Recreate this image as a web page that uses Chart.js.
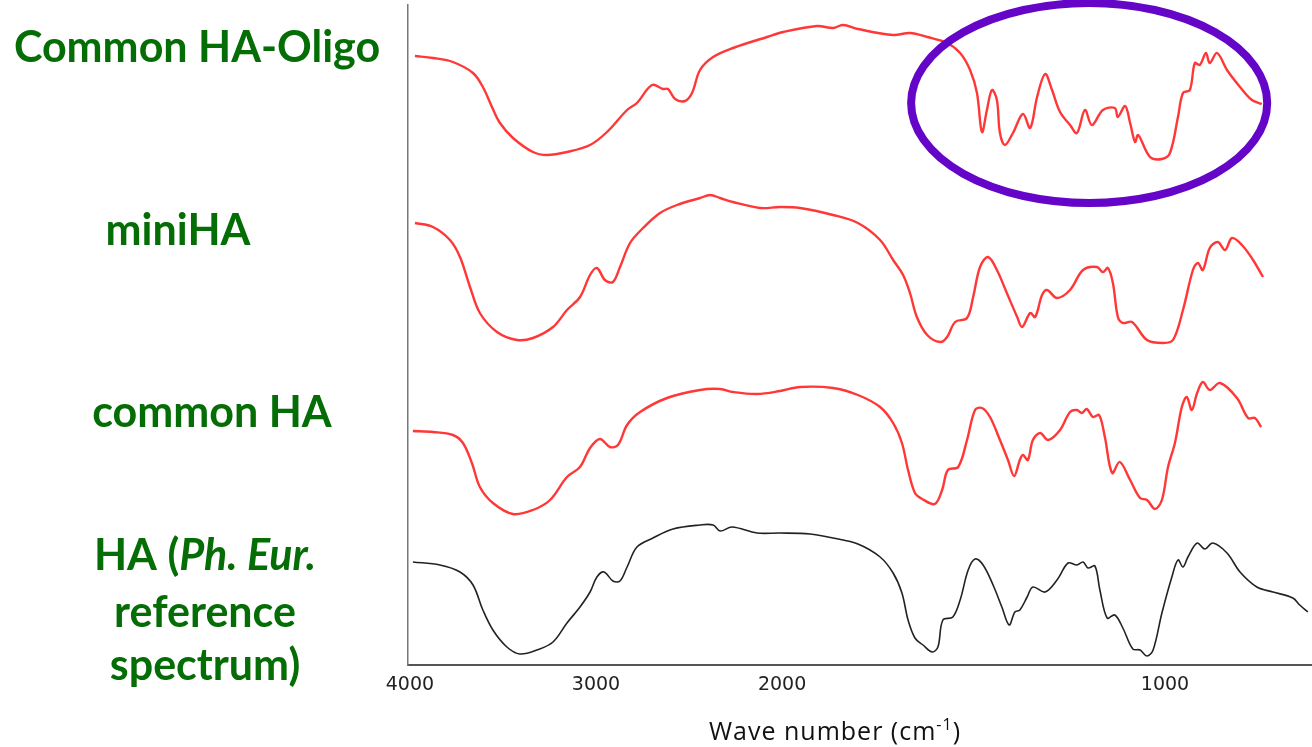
<!DOCTYPE html>
<html lang="en">
<head>
  <meta charset="UTF-8">
  <title>FTIR spectra – HA samples</title>
  <style>
    html, body { margin: 0; padding: 0; background: #ffffff; }
    #wrap { position: relative; width: 1312px; height: 747px; }
  </style>
</head>
<body>
  <div id="wrap"><canvas id="spectra" width="1312" height="747"></canvas></div>

  <script src="https://cdn.jsdelivr.net/npm/chart.js"></script>
  <script>
    // wave numbers (cm-1) and stacked trace levels (a.u.)
    const oligoWave = [3973, 3876, 3769, 3661, 3608, 3559, 3516, 3446, 3339, 3263, 3156, 3032, 2941, 2833, 2780, 2699, 2640, 2613, 2575, 2522,
      2484, 2441, 2371, 2264, 2081, 1997, 1909, 1867, 1841, 1802, 1710, 1666, 1621, 1569, 1535, 1509, 1491, 1478, 1465, 1452,
      1439, 1431, 1418, 1397, 1371, 1352, 1334, 1313, 1295, 1274, 1248, 1230, 1209, 1191, 1162, 1131, 1123, 1104, 1091, 1078,
      1070, 1039, 1008, 987, 966, 953, 935, 922, 909, 893, 883, 864, 838, 804, 773, 747];
    const oligoLevel = [609, 607, 603, 592, 578, 558, 542, 527, 513, 510, 513, 520, 533, 555, 562, 580, 576, 576, 566, 564,
      572, 595, 608, 617, 628, 633, 639, 637, 640, 636, 630, 632, 628, 622, 612, 595, 572, 533, 555, 575,
      565, 532, 520, 532, 551, 537, 568, 591, 575, 553, 540, 532, 555, 540, 555, 557, 548, 559, 542, 523,
      530, 508, 506, 512, 548, 572, 575, 602, 600, 612, 602, 612, 595, 578, 565, 561];

    const miniWave = [3973, 3876, 3785, 3731, 3677, 3624, 3532, 3425, 3339, 3231, 3156, 3086, 3032, 2995, 2952, 2909, 2871, 2817, 2747, 2656,
      2565, 2441, 2387, 2333, 2264, 2118, 2011, 1953, 1867, 1802, 1744, 1710, 1684, 1666, 1648, 1621, 1587, 1569, 1548, 1517,
      1501, 1483, 1462, 1439, 1413, 1386, 1373, 1352, 1339, 1321, 1308, 1282, 1248, 1214, 1178, 1162, 1149, 1136, 1123, 1110,
      1086, 1047, 1005, 979, 953, 927, 914, 901, 883, 862, 843, 825, 799, 770, 744];
    const miniLevel = [442, 438, 425, 408, 378, 352, 333, 325, 327, 338, 355, 368, 390, 397, 385, 383, 398, 422, 437, 452,
      460, 467, 470, 467, 463, 457, 458, 457, 450, 442, 425, 405, 390, 372, 348, 330, 323, 328, 343, 347,
      368, 398, 408, 395, 372, 348, 338, 352, 348, 370, 375, 367, 375, 395, 398, 393, 397, 382, 348, 342,
      343, 325, 322, 325, 355, 395, 402, 395, 417, 423, 415, 427, 420, 405, 388];

    const commonWave = [3984, 3876, 3769, 3715, 3667, 3624, 3554, 3446, 3339, 3247, 3156, 3086, 3032, 2979, 2925, 2882, 2833, 2763, 2618, 2441,
      2333, 2264, 2135, 2011, 1953, 1867, 1802, 1744, 1710, 1687, 1671, 1653, 1634, 1601, 1582, 1567, 1540, 1517, 1496, 1478,
      1457, 1431, 1410, 1394, 1379, 1371, 1358, 1345, 1326, 1305, 1274, 1248, 1230, 1217, 1204, 1188, 1172, 1157, 1138, 1118,
      1091, 1065, 1047, 1026, 1008, 992, 974, 956, 943, 930, 916, 901, 883, 856, 812, 783, 765, 749];
    const commonLevel = [234, 233, 230, 222, 202, 178, 162, 151, 155, 165, 188, 198, 217, 226, 218, 220, 240, 253, 267, 275,
      276, 273, 271, 274, 278, 277, 270, 258, 242, 222, 195, 172, 166, 161, 175, 195, 198, 225, 255, 257,
      248, 225, 205, 189, 205, 210, 205, 225, 232, 225, 235, 253, 255, 252, 256, 248, 250, 228, 192, 203,
      185, 167, 165, 156, 165, 198, 222, 258, 268, 255, 272, 283, 275, 282, 267, 247, 247, 238];

    const refWave = [3984, 3839, 3731, 3661, 3608, 3554, 3479, 3409, 3317, 3231, 3156, 3086, 3032, 2995, 2957, 2909, 2871, 2833, 2780, 2694,
      2586, 2441, 2371, 2333, 2269, 2135, 2011, 1927, 1867, 1802, 1744, 1710, 1687, 1671, 1653, 1632, 1608, 1593, 1580, 1554,
      1535, 1514, 1496, 1475, 1449, 1426, 1407, 1392, 1379, 1360, 1345, 1313, 1282, 1253, 1230, 1214, 1201, 1183, 1170, 1151,
      1131, 1110, 1084, 1065, 1047, 1031, 1008, 982, 966, 953, 940, 916, 896, 875, 838, 804, 760, 718, 666, 648, 627];
    const refLevel = [103, 100, 93, 80, 55, 35, 18, 11, 15, 23, 42, 58, 73, 88, 93, 84, 84, 98, 118, 127,
      136, 140, 140, 134, 138, 132, 132, 131, 127, 121, 108, 92, 72, 45, 27, 20, 13, 18, 45, 48,
      65, 95, 106, 100, 80, 58, 40, 53, 55, 68, 78, 73, 85, 102, 100, 103, 97, 99, 75, 47,
      50, 37, 16, 15, 9, 15, 52, 88, 105, 98, 108, 122, 116, 122, 112, 93, 78, 73, 67, 60, 53];

    const waveTicks = [4000, 3000, 2000, 1000];
    const sampleNames = ['Common HA-Oligo', 'miniHA', 'common HA', 'HA (Ph. Eur. reference spectrum)'];
    const axisTitle = 'Wave number (cm';
    const axisTitleSup = '-1';

    // the spectrometer plot compresses the range above 2000 cm-1
    const SPLIT = 2000, HIGH_FACTOR = 0.486;
    function toAxis(w) { return w < SPLIT ? w : SPLIT + (w - SPLIT) * HIGH_FACTOR; }

    function series(wave, level) {
      return wave.map((w, i) => ({ x: toAxis(w), y: level[i] }));
    }

    const redTrace = { borderColor: 'rgba(255, 20, 20, 0.85)', borderWidth: 2.4 };
    const blackTrace = { borderColor: '#222222', borderWidth: 1.6 };

    // left hand sample labels, drawn on the canvas
    const labelLines = [
      { cx: 197, base: 62, parts: [{ text: 'Common HA-Oligo' }] },
      { cx: 178, base: 245, parts: [{ text: 'miniHA' }] },
      { cx: 212, base: 427, parts: [{ text: 'common HA' }] },
      { cx: 205, base: 570, parts: [{ text: 'HA (' }, { text: 'Ph. Eur.', italic: true }] },
      { cx: 205, base: 627, parts: [{ text: 'reference' }] },
      { cx: 205, base: 680, parts: [{ text: 'spectrum)' }] }
    ];

    const labelPlugin = {
      id: 'sampleLabels',
      afterDraw(chart) {
        const ctx = chart.ctx;
        ctx.save();
        ctx.fillStyle = '#056d05';
        ctx.textBaseline = 'alphabetic';
        ctx.textAlign = 'left';
        labelLines.forEach(line => {
          const fontOf = p => (p.italic ? 'italic ' : '') + 'bold 43px Lato, "Open Sans", sans-serif';
          let width = 0;
          line.parts.forEach(p => { ctx.font = fontOf(p); width += ctx.measureText(p.text).width; });
          let x = line.cx - width / 2;
          line.parts.forEach(p => {
            ctx.font = fontOf(p);
            ctx.fillText(p.text, x, line.base);
            x += ctx.measureText(p.text).width;
          });
        });

        // axis title with superscript
        ctx.fillStyle = '#111111';
        ctx.letterSpacing = '1px';
        ctx.font = '25px "Open Sans", sans-serif';
        const mainW = ctx.measureText(axisTitle).width;
        ctx.font = '16px "Open Sans", sans-serif';
        const supW = ctx.measureText(axisTitleSup).width;
        ctx.font = '25px "Open Sans", sans-serif';
        const closeW = ctx.measureText(')').width;
        let tx = 835 - (mainW + supW + closeW) / 2;
        ctx.fillText(axisTitle, tx, 740);
        tx += mainW;
        ctx.font = '16px "Open Sans", sans-serif';
        ctx.fillText(axisTitleSup, tx, 730);
        tx += supW;
        ctx.font = '25px "Open Sans", sans-serif';
        ctx.fillText(')', tx, 740);
        ctx.restore();
      }
    };

    // purple ring around the fingerprint region of the oligo trace
    const highlight = { wave: 1198, level: 562, halfWave: 465, halfLevel: 100 };
    const ringPlugin = {
      id: 'ring',
      afterDraw(chart) {
        const { ctx, scales: { x, y } } = chart;
        const cx = x.getPixelForValue(toAxis(highlight.wave));
        const cy = y.getPixelForValue(highlight.level);
        const rx = Math.abs(x.getPixelForValue(toAxis(highlight.wave) + highlight.halfWave) - cx);
        const ry = Math.abs(y.getPixelForValue(highlight.level + highlight.halfLevel) - cy);
        ctx.save();
        ctx.strokeStyle = '#6405c8';
        ctx.lineWidth = 8;
        ctx.beginPath();
        ctx.ellipse(cx, cy, rx, ry, 0, 0, Math.PI * 2);
        ctx.stroke();
        ctx.restore();
      }
    };

    new Chart(document.getElementById('spectra'), {
      type: 'line',
      data: {
        datasets: [
          { label: sampleNames[0], data: series(oligoWave, oligoLevel), ...redTrace },
          { label: sampleNames[1], data: series(miniWave, miniLevel), ...redTrace },
          { label: sampleNames[2], data: series(commonWave, commonLevel), ...redTrace },
          { label: sampleNames[3], data: series(refWave, refLevel), ...blackTrace }
        ]
      },
      options: {
        responsive: false,
        animation: false,
        layout: { padding: { left: 408, top: 5, right: 0, bottom: 0 } },
        elements: { point: { radius: 0 }, line: { tension: 0.35 } },
        plugins: { legend: { display: false }, tooltip: { enabled: false } },
        scales: {
          x: {
            type: 'linear',
            reverse: true,
            min: 616,
            max: 2977,
            afterBuildTicks: s => { s.ticks = waveTicks.map(w => ({ value: toAxis(w) })); },
            afterFit: s => { s.height = 82; },
            ticks: {
              autoSkip: false,
              maxRotation: 0,
              padding: 9,
              color: '#222222',
              font: { family: 'DejaVu Sans', size: 19 },
              callback: (v, i) => waveTicks[i]
            },
            grid: { display: false, drawTicks: false },
            border: { color: '#555555', width: 2 }
          },
          y: {
            min: 0,
            max: 660,
            afterFit: s => { s.width = 0; },
            ticks: { display: false },
            grid: { display: false, drawTicks: false },
            border: { color: '#777777', width: 1.5 }
          }
        }
      },
      plugins: [labelPlugin, ringPlugin]
    });
  </script>
</body>
</html>
